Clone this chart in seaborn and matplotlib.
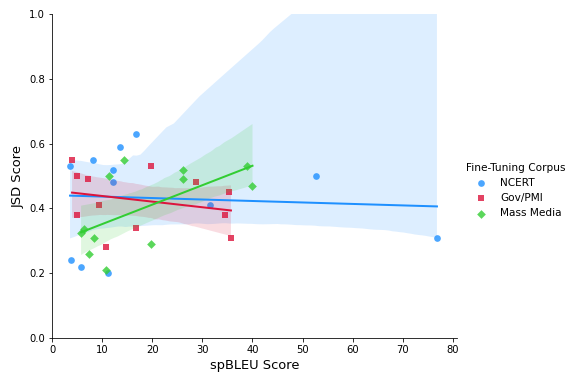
import pandas as pd
import numpy as np
import matplotlib
matplotlib.use("Agg")
import matplotlib.pyplot as plt
import seaborn as sns

plt.rcParams['font.family'] = ['DejaVu Sans']

# spBLEU / JSD scores per fine-tuning corpus
ncert_x = [3.6, 3.8, 5.8, 8.2, 12.1, 12.1, 13.5, 16.7, 11.1, 31.6, 52.7, 76.8]
ncert_y = [0.53, 0.24, 0.22, 0.55, 0.52, 0.48, 0.59, 0.63, 0.20, 0.41, 0.50, 0.31]

gov_x = [4.0, 5.0, 7.1, 9.4, 4.9, 10.7, 16.7, 19.8, 28.8, 35.3, 34.5, 35.7]
gov_y = [0.55, 0.50, 0.49, 0.41, 0.38, 0.28, 0.34, 0.53, 0.48, 0.45, 0.38, 0.31]

media_x = [5.8, 6.3, 8.3, 7.4, 10.7, 11.4, 14.3, 19.8, 26.1, 26.1, 39.0, 40.0]
media_y = [0.325, 0.335, 0.31, 0.26, 0.21, 0.50, 0.55, 0.29, 0.52, 0.49, 0.53, 0.47]

corpora = ['NCERT', 'Gov/PMI', 'Mass Media']
colors = {'NCERT': '#1E90FF', 'Gov/PMI': '#DC143C', 'Mass Media': '#32CD32'}
markers = {'NCERT': 'o', 'Gov/PMI': 's', 'Mass Media': 'D'}

df = pd.concat([
    pd.DataFrame({'spBLEU': ncert_x, 'JSD': ncert_y, 'corpus': 'NCERT'}),
    pd.DataFrame({'spBLEU': gov_x, 'JSD': gov_y, 'corpus': 'Gov/PMI'}),
    pd.DataFrame({'spBLEU': media_x, 'JSD': media_y, 'corpus': 'Mass Media'}),
])

fig, ax = plt.subplots(figsize=(567/72, 376/72), dpi=72)
for c in corpora:
    sub = df[df['corpus'] == c]
    sns.regplot(data=sub, x='spBLEU', y='JSD', ax=ax, color=colors[c],
                marker=markers[c], label=c, seed=0,
                scatter_kws={'s': 45 if markers[c] != 'D' else 38,
                             'alpha': 0.8, 'linewidths': 0},
                line_kws={'linewidth': 2})

ax.set_xlim(0, 80.8)
ax.set_ylim(0, 1.0)
ax.set_xticks(range(0, 81, 10))
ax.set_xlabel("spBLEU Score", fontsize=13)
ax.set_ylabel("JSD Score", fontsize=13)
ax.tick_params(labelsize=10)
sns.despine()

leg = ax.legend(title="Fine-Tuning Corpus", frameon=False, fontsize=10.5,
                title_fontsize=10.5, loc='center left',
                bbox_to_anchor=(1.0, 0.455), labelspacing=0.5)

plt.subplots_adjust(left=52/567, right=457/567, top=1-14/376, bottom=1-338/376)
plt.savefig("out.png", dpi=72)
plt.close()
